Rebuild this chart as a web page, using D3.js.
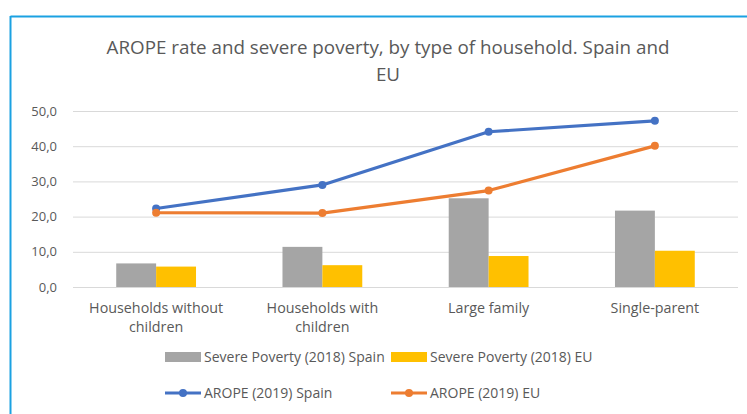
<!DOCTYPE html>
<html>
<head>
<meta charset="utf-8">
<script src="https://cdn.jsdelivr.net/npm/d3@7"></script>
<style>
  html, body { margin: 0; padding: 0; background: #fff; }
  svg { display: block; }
  text { font-family: "Open Sans", "DejaVu Sans", sans-serif; fill: #595959; }
</style>
</head>
<body>
<svg id="chart" width="747" height="414"></svg>
<script>
// Household types and the four series shown for each
const categories = [["Households without", "children"], ["Households with", "children"], ["Large family"], ["Single-parent"]];
const severeSpain = [6.7, 11.4, 25.2, 21.7];
const severeEU = [5.8, 6.2, 8.8, 10.3];
const aropeSpain = [22.3, 29.0, 44.1, 47.2];
const aropeEU = [21.1, 21.0, 27.4, 40.1];
const yTicks = [0, 10, 20, 30, 40, 50];

const colors = { gSpain: "#A5A5A5", gEU: "#FFC000", lSpain: "#4472C4", lEU: "#ED7D31" };

const svg = d3.select("#chart");
const W = 747, H = 414;
const plot = { left: 73, right: 738, top: 111, bottom: 287 };

// Outer frame: blue rule along the top and left edge
svg.append("line").attr("x1", 10.5).attr("x2", W).attr("y1", 16.5).attr("y2", 16.5)
  .attr("stroke", "#1BA1E2").attr("stroke-width", 2);
svg.append("line").attr("x1", 10.5).attr("x2", 10.5).attr("y1", 16).attr("y2", H)
  .attr("stroke", "#1BA1E2").attr("stroke-width", 2);

// Title
const title = svg.append("text").attr("text-anchor", "middle").style("font-size", "18.8px");
title.append("tspan").attr("x", 388).attr("y", 54).text("AROPE rate and severe poverty, by type of household. Spain and");
title.append("tspan").attr("x", 388).attr("y", 81).text("EU");

const idx = d3.range(categories.length);
const x = d3.scaleBand().domain(idx).range([plot.left, plot.right]).paddingInner(0).paddingOuter(0);
const y = d3.scaleLinear().domain([0, 50]).range([plot.bottom, plot.top]);
const groupWidth = x.bandwidth() * 0.48;
const xs = d3.scaleBand().domain(["s", "e"]).range([0, groupWidth]);

// Horizontal gridlines and y labels
const yAxis = d3.axisLeft(y).tickValues(yTicks).tickSize(-(plot.right - plot.left)).tickPadding(16)
  .tickFormat(d => d3.format(".1f")(d).replace(".", ","));
const gy = svg.append("g").attr("transform", `translate(${plot.left},0)`).call(yAxis);
gy.select(".domain").remove();
gy.selectAll(".tick line").attr("stroke", "#D9D9D9").attr("stroke-width", 1);
gy.selectAll(".tick text").style("font-size", "13px").attr("fill", "#595959");

// Bars
const bars = svg.append("g");
const barSeries = [{ key: "s", vals: severeSpain, color: colors.gSpain }, { key: "e", vals: severeEU, color: colors.gEU }];
barSeries.forEach(s => {
  bars.selectAll(null).data(idx).enter().append("rect")
    .attr("x", i => x(i) + (x.bandwidth() - groupWidth) / 2 + xs(s.key))
    .attr("width", xs.bandwidth())
    .attr("y", i => y(s.vals[i]))
    .attr("height", i => y(0) - y(s.vals[i]))
    .attr("fill", s.color);
});

// Lines with markers
const cx = i => x(i) + x.bandwidth() / 2;
const lineSeries = [{ vals: aropeSpain, color: colors.lSpain }, { vals: aropeEU, color: colors.lEU }];
lineSeries.forEach(s => {
  const line = d3.line().x(i => cx(i)).y(i => y(s.vals[i]));
  svg.append("path").datum(idx).attr("d", line).attr("fill", "none")
    .attr("stroke", s.color).attr("stroke-width", 3.2).attr("stroke-linejoin", "round").attr("stroke-linecap", "round");
  svg.append("g").selectAll("circle").data(idx).enter().append("circle")
    .attr("cx", i => cx(i)).attr("cy", i => y(s.vals[i])).attr("r", 4).attr("fill", s.color);
});

// Category labels
const xl = svg.append("g");
idx.forEach(i => {
  const t = xl.append("text").attr("text-anchor", "middle").style("font-size", "14.3px");
  categories[i].forEach((ln, k) => {
    t.append("tspan").attr("x", cx(i)).attr("y", 313 + k * 18.5).text(ln);
  });
});

// Legend
const legend = [
  { label: "Severe Poverty (2018) Spain", color: colors.gSpain, type: "bar", x: 165, y: 357 },
  { label: "Severe Poverty (2018) EU", color: colors.gEU, type: "bar", x: 391, y: 357 },
  { label: "AROPE (2019) Spain", color: colors.lSpain, type: "line", x: 165, y: 393 },
  { label: "AROPE (2019) EU", color: colors.lEU, type: "line", x: 391, y: 393 }
];
const lg = svg.append("g");
legend.forEach(d => {
  if (d.type === "bar") {
    lg.append("rect").attr("x", d.x).attr("y", d.y - 5).attr("width", 36).attr("height", 10).attr("fill", d.color);
  } else {
    lg.append("line").attr("x1", d.x).attr("x2", d.x + 36).attr("y1", d.y).attr("y2", d.y)
      .attr("stroke", d.color).attr("stroke-width", 3.2);
    lg.append("circle").attr("cx", d.x + 18).attr("cy", d.y).attr("r", 4).attr("fill", d.color);
  }
  lg.append("text").attr("x", d.x + 39).attr("y", d.y + 5).style("font-size", "14px").text(d.label);
});
</script>
</body>
</html>
